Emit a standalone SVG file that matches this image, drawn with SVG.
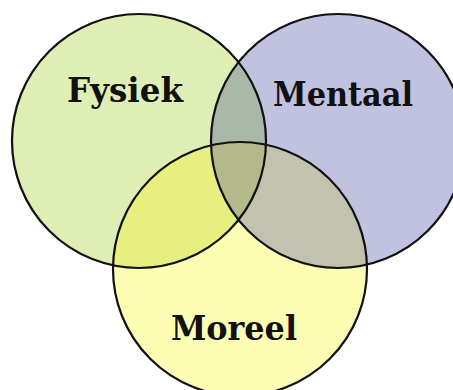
<svg xmlns="http://www.w3.org/2000/svg" width="453" height="390" viewBox="0 0 453 390">
  <style>
    .ring { fill: none; stroke: #111; stroke-width: 2.2; }
    .lbl { font-family: "DejaVu Serif", "Liberation Serif", serif; font-weight: bold; font-size: 33px; fill: #111; }
  </style>
  <defs>
    <clipPath id="cG"><circle cx="139" cy="141" r="127"/></clipPath>
    <clipPath id="cB"><circle cx="338" cy="141" r="127"/></clipPath>
    <clipPath id="cY"><circle cx="240" cy="269" r="127"/></clipPath>
  </defs>
  <rect width="453" height="390" fill="#ffffff"/>
  <g id="fills">
    <circle cx="139" cy="141" r="127" fill="#dfeeb4"/>
    <circle cx="338" cy="141" r="127" fill="#c1c2e0"/>
    <circle cx="240" cy="269" r="127" fill="#fdfdb4"/>
    <g clip-path="url(#cG)">
      <circle cx="338" cy="141" r="127" fill="#aab8a9"/>
      <circle cx="240" cy="269" r="127" fill="#e7f07e"/>
    </g>
    <g clip-path="url(#cB)">
      <circle cx="240" cy="269" r="127" fill="#c2c2ae"/>
    </g>
    <g clip-path="url(#cG)">
      <g clip-path="url(#cB)">
        <circle cx="240" cy="269" r="127" fill="#b3b98b"/>
      </g>
    </g>
  </g>
  <g id="fysiek">
    <circle class="ring" cx="139" cy="141" r="127"/>
    <text class="lbl" x="67" y="102" textLength="116" lengthAdjust="spacingAndGlyphs">Fysiek</text>
  </g>
  <g id="mentaal">
    <circle class="ring" cx="338" cy="141" r="127" stroke="#101030"/>
    <text class="lbl" x="273" y="106" textLength="140" lengthAdjust="spacingAndGlyphs">Mentaal</text>
  </g>
  <g id="moreel">
    <circle class="ring" cx="240" cy="269" r="127"/>
    <text class="lbl" x="171" y="340" textLength="126" lengthAdjust="spacingAndGlyphs">Moreel</text>
  </g>
  <g id="connectors"/>
</svg>
